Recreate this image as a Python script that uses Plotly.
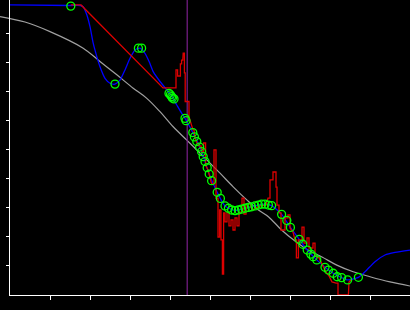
import plotly.graph_objects as go

# ---- data ----
grey_x = [-0.25, 0.375, 1.0, 1.83, 2.25, 2.67, 3.08, 3.42, 3.75, 4.08, 4.42, 4.67, 4.92,
          5.25, 5.58, 5.92, 6.21, 6.46, 6.79, 7.125, 7.45, 7.80, 8.17, 8.58, 9.0, 9.5, 10.0]
grey_y = [9.60, 9.41, 9.08, 8.51, 8.05, 7.59, 7.13, 6.78, 6.32, 5.80, 5.34, 5.00, 4.66,
          4.20, 3.73, 3.28, 2.93, 2.70, 2.24, 1.86, 1.55, 1.31, 1.03, 0.80, 0.63, 0.45, 0.31]

blue_x = [0.0, 1.52, 1.75, 1.83, 1.92, 2.0, 2.08, 2.17, 2.25, 2.375, 2.5, 2.625, 2.75, 2.875,
          3.0, 3.125, 3.25, 3.375, 3.48, 3.58, 3.75, 3.92, 4.04, 4.17, 4.29, 4.375, 4.57,
          4.79, 4.98, 5.18, 5.375, 5.625, 5.875, 6.125, 6.375, 6.54, 6.79, 7.01, 7.23, 7.43,
          7.67, 7.875, 8.08, 8.29, 8.44, 8.71, 8.875, 9.125, 9.375, 9.625, 10.0]
blue_y = [10.0, 9.98, 9.98, 9.94, 9.66, 9.25, 8.68, 8.22, 7.87, 7.47, 7.30, 7.27, 7.41, 7.76,
          8.16, 8.45, 8.51, 8.33, 8.04, 7.70, 7.36, 7.07, 6.86, 6.55, 6.27, 6.09, 5.60,
          4.94, 4.17, 3.54, 3.07, 2.91, 2.99, 3.07, 3.13, 3.08, 2.78, 2.33, 1.92, 1.55,
          1.21, 0.955, 0.75, 0.60, 0.52, 0.61, 0.80, 1.15, 1.38, 1.47, 1.55]

red_x = [1.52, 1.775, 3.825, 4.15, 4.15, 4.19, 4.19, 4.26, 4.26, 4.29, 4.29, 4.32, 4.33, 4.36,
         4.36, 4.38, 4.38, 4.475, 4.475, 4.525, 4.575, 4.60, 4.625, 4.675, 4.725, 4.775, 4.80,
         4.84, 4.84, 4.89, 4.89, 4.95, 5.0, 5.04, 5.10, 5.10, 5.15, 5.15, 5.20, 5.20, 5.24,
         5.24, 5.275, 5.275, 5.31, 5.31, 5.34, 5.34, 5.375, 5.375, 5.425, 5.425, 5.475, 5.475,
         5.525, 5.525, 5.575, 5.575, 5.625, 5.625, 5.675, 5.675, 5.725, 5.725, 5.80, 5.80,
         5.85, 5.85, 5.90, 5.90, 6.0, 6.05, 6.15, 6.25, 6.40, 6.45, 6.50, 6.50, 6.575, 6.575,
         6.65, 6.65, 6.675, 6.675, 6.725, 6.725, 6.775, 6.775, 6.875, 6.875, 6.95, 6.95, 7.0,
         7.0, 7.075, 7.125, 7.16, 7.16, 7.21, 7.21, 7.30, 7.30, 7.35, 7.35, 7.425, 7.425,
         7.475, 7.475, 7.575, 7.575, 7.625, 7.625, 7.725, 7.775, 7.85, 7.90, 7.975, 8.05,
         8.15, 8.20, 8.20, 8.46, 8.475, 8.525]
red_y = [10.0, 10.0, 7.14, 7.14, 7.76, 7.76, 7.55, 7.55, 7.97, 7.97, 8.10, 8.10, 8.34, 8.34,
         7.66, 7.66, 6.67, 6.67, 6.14, 5.93, 5.69, 5.69, 5.41, 5.24, 5.14, 5.14, 4.93,
         4.93, 5.24, 5.24, 4.48, 4.31, 4.07, 3.83, 3.83, 5.00, 5.00, 3.34, 3.34, 2.00, 2.00,
         2.93, 2.93, 1.90, 1.90, 0.72, 0.72, 2.83, 2.83, 2.52, 2.52, 2.86, 2.86, 2.38,
         2.38, 2.59, 2.59, 2.24, 2.24, 2.66, 2.66, 2.38, 2.38, 2.86, 2.86, 3.34,
         3.34, 2.79, 2.79, 3.14, 3.14, 2.93, 3.00, 3.07, 3.10, 3.34, 3.34, 3.97, 3.97, 4.24,
         4.24, 3.72, 3.72, 3.10, 3.10, 2.83, 2.83, 2.24, 2.24, 2.66, 2.66, 2.76, 2.76,
         2.31, 2.17, 1.90, 1.90, 1.28, 1.28, 1.90, 1.90, 2.34, 2.34, 1.79, 1.79, 1.97,
         1.97, 1.62, 1.62, 1.79, 1.79, 1.34, 1.28, 1.14, 0.93, 0.79, 0.66, 0.45,
         0.41, 0.41, 0.0, 0.0, 0.45, 0.52]

circ_x = [1.52, 2.625, 3.21, 3.29, 3.975, 4.01, 4.04, 4.06, 4.10, 4.375, 4.40, 4.57, 4.61,
          4.67, 4.74, 4.79, 4.83, 4.875, 4.93, 4.98, 5.04, 5.18, 5.26, 5.375, 5.46, 5.54,
          5.625, 5.71, 5.79, 5.875, 5.96, 6.04, 6.125, 6.21, 6.29, 6.375, 6.46, 6.54, 6.79,
          6.92, 7.01, 7.23, 7.32, 7.43, 7.52, 7.58, 7.67, 7.875, 7.96, 8.08, 8.18, 8.29,
          8.44, 8.71]
circ_y = [9.96, 7.27, 8.51, 8.51, 6.95, 6.90, 6.84, 6.79, 6.76, 6.09, 6.01, 5.60, 5.45,
          5.29, 5.10, 4.94, 4.77, 4.60, 4.39, 4.17, 3.94, 3.54, 3.33, 3.07, 2.99, 2.93,
          2.91, 2.93, 2.96, 2.99, 3.02, 3.04, 3.07, 3.10, 3.13, 3.13, 3.10, 3.08, 2.78,
          2.57, 2.33, 1.92, 1.75, 1.55, 1.41, 1.32, 1.21, 0.955, 0.86, 0.75, 0.63, 0.60,
          0.52, 0.61]

vline_x = 4.43
tick_vals = [1, 2, 3, 4, 5, 6, 7, 8, 9]
y_top = 10.17

fig = go.Figure()
# grey reference curve on a full-width hidden subplot (extends left of the axis)
fig.add_trace(go.Scatter(x=grey_x, y=grey_y, mode="lines", line=dict(color="#a0a0a0", width=1.2, shape="spline"),
                         xaxis="x", yaxis="y", showlegend=False, hoverinfo="skip"))
fig.add_trace(go.Scatter(x=[vline_x, vline_x], y=[0, y_top], mode="lines", line=dict(color="#7b1f8c", width=1.2),
                         xaxis="x2", yaxis="y2", showlegend=False))
fig.add_trace(go.Scatter(x=blue_x, y=blue_y, mode="lines", line=dict(color="#0000ff", width=1.3, shape="spline", smoothing=0.6),
                         xaxis="x2", yaxis="y2", showlegend=False))
fig.add_trace(go.Scatter(x=red_x, y=red_y, mode="lines", line=dict(color="#dd0000", width=1.3),
                         xaxis="x2", yaxis="y2", showlegend=False))
fig.add_trace(go.Scatter(x=circ_x, y=circ_y, mode="markers",
                         marker=dict(symbol="circle-open", size=8, color="#00ff00", line=dict(width=1.3, color="#00ff00")),
                         xaxis="x2", yaxis="y2", showlegend=False))

ydom = [15 / 310, 1]
fig.update_layout(
    template="none",
    width=410, height=310,
    margin=dict(l=0, r=0, t=0, b=0, pad=0),
    paper_bgcolor="black",
    plot_bgcolor="rgba(0,0,0,0)",
    xaxis=dict(domain=[0, 1], range=[-0.25, 10], visible=False, anchor="y"),
    yaxis=dict(domain=ydom, range=[0, y_top], visible=False, anchor="x"),
    xaxis2=dict(domain=[10 / 410, 1], range=[0, 10], anchor="y2", showline=True, linecolor="white", linewidth=1.2,
                ticks="outside", ticklen=4, tickwidth=1.2, tickcolor="white", tickvals=tick_vals,
                showticklabels=False, showgrid=False, zeroline=False),
    yaxis2=dict(domain=ydom, range=[0, y_top], anchor="x2", showline=True, linecolor="white", linewidth=1.2,
                ticks="outside", ticklen=3, tickwidth=1.2, tickcolor="white", tickvals=tick_vals,
                showticklabels=False, showgrid=False, zeroline=False),
)

fig.write_html("out.html")
